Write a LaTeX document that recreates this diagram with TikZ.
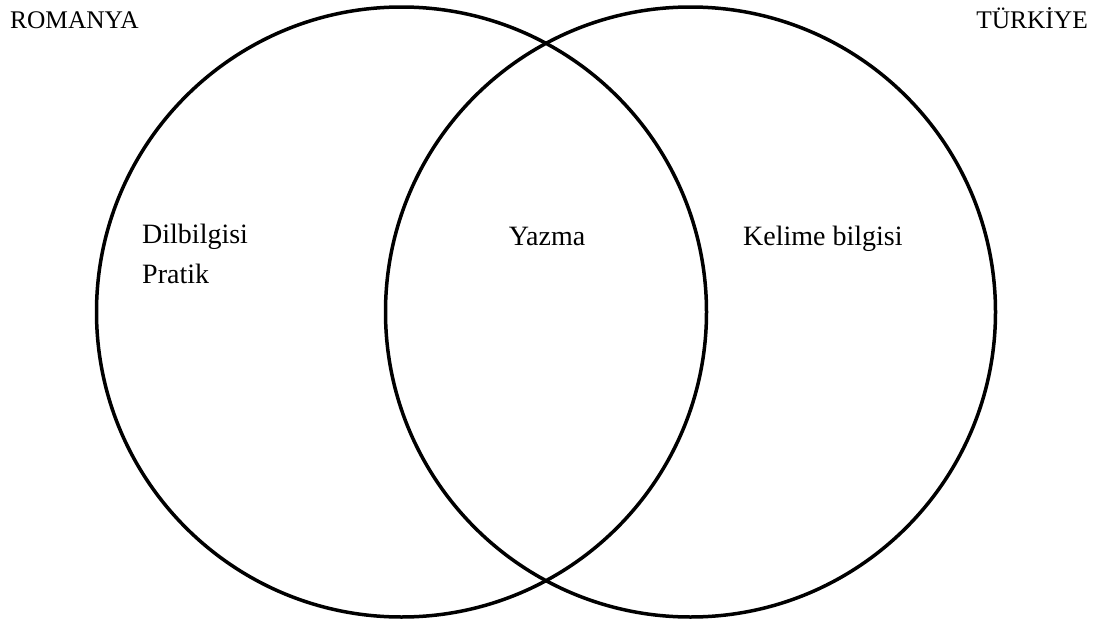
\documentclass[tikz,border=0pt]{standalone}
\usepackage{fontspec}
\setmainfont{Liberation Serif}
\usepackage{tikz}
\usetikzlibrary{positioning}
\definecolor{cK}{HTML}{000000}
\tikzset{
  ring/.style={circle,draw=cK,line width=3.5pt,minimum size=610pt,inner sep=0pt},
  tag/.style={inner sep=0pt,font=\fontsize{25.4}{30}\selectfont},
  lbl/.style={inner sep=0pt,font=\fontsize{28}{40}\selectfont},
}

\begin{document}
\begin{tikzpicture}[x=1pt,y=-1pt]
  \useasboundingbox (0,0) rectangle (1101,621);
  % the two sets
  \node[ring] (ro) at (401.5,312){};
  \node[ring] (tr) at (690.5,312){};
  \node[tag,anchor=base west] (roname) at (10,28){ROMANYA};
  \node[tag,anchor=base east] (trname) at (1088,28){TÜRKİYE};
  % contents of each region
  \node[lbl,anchor=base west] (dil) at (142,243){Dilbilgisi};
  \node[lbl,anchor=base west] (pra) at (142,283){Pratik};
  \node[lbl,anchor=base] (yaz) at (547,245){Yazma};
  \node[lbl,anchor=base west] (kel) at (743,245){Kelime bilgisi};
\end{tikzpicture}
\end{document}
